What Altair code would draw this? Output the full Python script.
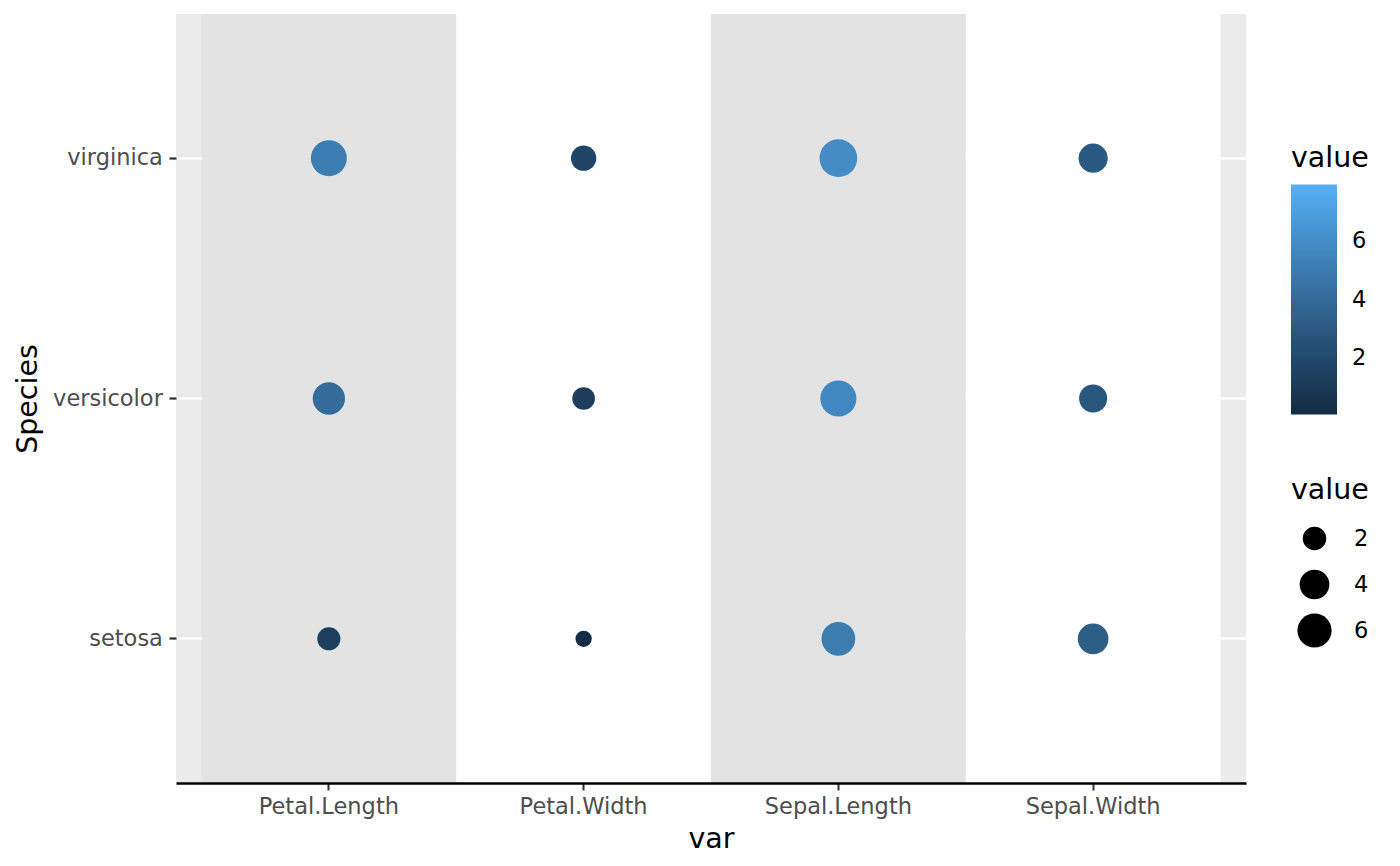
import altair as alt
import pandas as pd

species = ["setosa", "versicolor", "virginica"]
variables = ["Petal.Length", "Petal.Width", "Sepal.Length", "Sepal.Width"]

# largest value in each cell (sets the visible circle size)
size_setosa = [1.9, 0.6, 5.8, 4.4]
size_versicolor = [5.1, 1.8, 7.0, 3.4]
size_virginica = [6.9, 2.5, 7.9, 3.8]

# value of the point drawn on top in each cell (sets the visible colour)
col_setosa = [1.4, 0.2, 5.0, 3.3]
col_versicolor = [4.1, 1.3, 5.7, 2.8]
col_virginica = [5.1, 1.8, 5.9, 3.0]

grey_stripes = ["Petal.Length", "Sepal.Length"]
white_stripes = ["Petal.Width", "Sepal.Width"]

rows = []
for sp, sizes, cols in [("setosa", size_setosa, col_setosa),
                        ("versicolor", size_versicolor, col_versicolor),
                        ("virginica", size_virginica, col_virginica)]:
    for v, s, c in zip(variables, sizes, cols):
        rows.append({"Species": sp, "var": v, "size_value": s, "col_value": c})
df = pd.DataFrame(rows)

FONT = "DejaVu Sans"
xscale = alt.Scale(type="band", paddingInner=0, paddingOuter=0.1)
yscale = alt.Scale(type="band", paddingInner=0, paddingOuter=0.1)
y_order = list(reversed(species))

xenc = alt.X("var:N", sort=variables, scale=xscale, title="var",
             axis=alt.Axis(grid=False, domain=True, domainColor="black", domainWidth=2.4,
                           ticks=True, tickColor="#333333", tickWidth=2, tickSize=7,
                           labelColor="#4D4D4D", labelFontSize=22.5, labelPadding=5,
                           labelFont=FONT, labelAngle=0,
                           titleFont=FONT, titleFontSize=28.5, titleFontWeight="normal",
                           titleColor="black", titlePadding=7, zindex=1))

stripes_grey = alt.Chart(pd.DataFrame({"var": grey_stripes})).mark_rect(
    color="#E3E3E3", opacity=1).encode(x=xenc)
stripes_white = alt.Chart(pd.DataFrame({"var": white_stripes})).mark_rect(
    color="#FFFFFF", opacity=1).encode(x=xenc)

points = alt.Chart(df).mark_circle(opacity=1, strokeWidth=0).encode(
    x=xenc,
    y=alt.Y("Species:N", sort=y_order, scale=yscale, title="Species",
            axis=alt.Axis(grid=True, gridColor="white", gridWidth=2.3,
                          domain=False, ticks=True, tickColor="#333333", tickWidth=2.2,
                          tickSize=7, labelColor="#4D4D4D", labelFontSize=22.5,
                          labelPadding=6.6, labelFont=FONT,
                          titleFont=FONT, titleFontSize=28.5, titleFontWeight="normal",
                          titleColor="black", titlePadding=10, zindex=0)),
    color=alt.Color("col_value:Q", title="value",
                    scale=alt.Scale(type="linear", domain=[0.1, 7.9],
                                    range=["#132B43", "#56B1F7"], interpolate="lab",
                                    zero=False, nice=False),
                    legend=alt.Legend(type="gradient", direction="vertical", orient="none",
                                      legendX=1115, legendY=130, values=[2, 4, 6],
                                      gradientLength=230, gradientThickness=46,
                                      gradientStrokeWidth=0, labelOffset=15,
                                      labelFont=FONT, labelFontSize=22.5, labelColor="black",
                                      titleFont=FONT, titleFontSize=28.5,
                                      titleFontWeight="normal", titleColor="black",
                                      titlePadding=12, padding=0)),
    size=alt.Size("size_value:Q", title="value",
                  scale=alt.Scale(type="pow", exponent=0.75, domain=[0, 7.9],
                                  range=[70, 1421], zero=False, nice=False),
                  legend=alt.Legend(orient="none", legendX=1115, legendY=462,
                                    values=[2, 4, 6], symbolFillColor="black",
                                    symbolStrokeColor="black", symbolStrokeWidth=0,
                                    symbolOpacity=1, symbolType="circle", symbolOffset=6,
                                    clipHeight=46, rowPadding=0, labelOffset=22,
                                    labelFont=FONT, labelFontSize=22.5, labelColor="black",
                                    titleFont=FONT, titleFontSize=28.5,
                                    titleFontWeight="normal", titleColor="black",
                                    titlePadding=11, padding=0)),
)

chart = alt.layer(stripes_grey, stripes_white, points).properties(
    width=1070, height=769,
    autosize=alt.AutoSizeParams(type="none"),
    padding={"left": 168, "top": 6, "right": 140, "bottom": 75},
).configure(font=FONT).configure_view(fill="#EBEBEB", stroke=None)

chart.save("out.html", embed_options={"renderer": "svg", "actions": False})
